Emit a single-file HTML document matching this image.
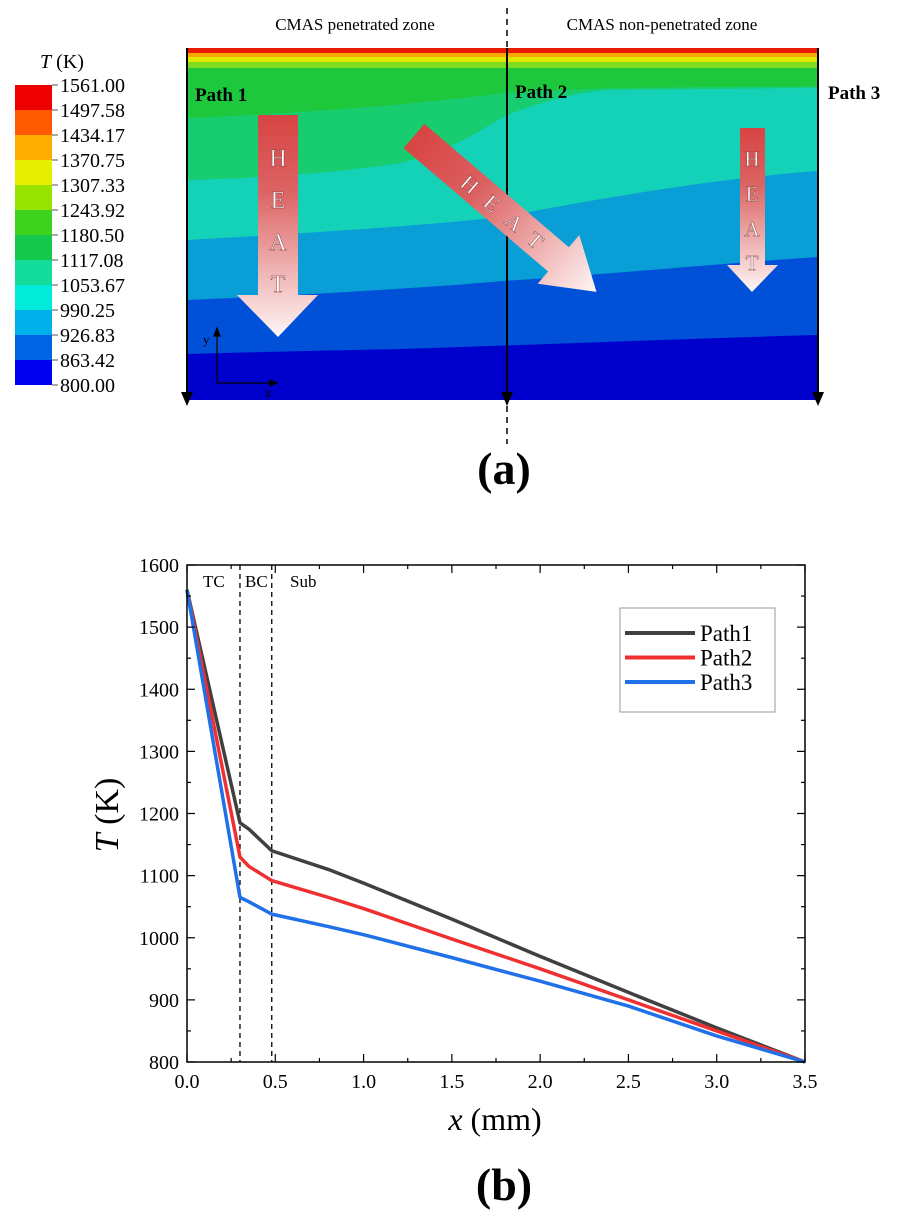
<!DOCTYPE html>
<html><head><meta charset="utf-8"><style>
body{margin:0;background:#fff;}
svg{display:block;font-family:"Liberation Serif",serif;}
</style></head><body>
<svg id="fig" width="908" height="1216" viewBox="0 0 908 1216">
<defs>
<linearGradient id="hg" x1="0" y1="0" x2="0" y2="1"><stop offset="0" stop-color="#d84444"/><stop offset="0.35" stop-color="#dc6464"/><stop offset="1" stop-color="#fff6f6"/></linearGradient>
<linearGradient id="hgd" x1="0" y1="0" x2="1" y2="0"><stop offset="0" stop-color="#d84444"/><stop offset="0.35" stop-color="#dc6060"/><stop offset="1" stop-color="#fff6f6"/></linearGradient>
</defs>
<g>
<text x="355" y="30" font-size="17" text-anchor="middle">CMAS penetrated zone</text>
<text x="662" y="30" font-size="17" text-anchor="middle">CMAS non-penetrated zone</text>
<g>
<rect x="187" y="48" width="631" height="352" fill="#0000cd"/>
<path d="M187,48H818V335C700,338 503,346 400,349C300,351 220,353 187,354Z" fill="#0050d8"/>
<path d="M187,48H818V257C700,265 600,275 503,281C400,290 260,297 187,300Z" fill="#0a9ed6"/>
<path d="M187,48H818V171C720,178 600,198 503,217C400,228 260,236 187,240Z" fill="#14d2b8"/>
<path d="M187,48H818V88L607,90C570,93 540,103 507,115C480,130 450,152 400,163C330,174 260,178 187,180Z" fill="#18cc70"/>
<path d="M187,48H818V86L607,88C570,90 540,91 503,93C430,103 300,114 187,118Z" fill="#1ec83c"/>
<rect x="187" y="48" width="631" height="20" fill="#80dc20"/>
<rect x="187" y="48" width="631" height="14" fill="#e0e800"/>
<rect x="187" y="48" width="631" height="9" fill="#f8a800"/>
<rect x="187" y="48" width="631" height="5" fill="#e81a00"/>
</g>
<g fill="#000">
<rect x="186" y="48" width="2" height="345"/><polygon points="181,392 193,392 187,406"/>
<rect x="506" y="48" width="2" height="345"/><polygon points="501,392 513,392 507,406"/>
<rect x="817" y="48" width="2" height="345"/><polygon points="812,392 824,392 818,406"/>
</g>
<line x1="507" y1="8" x2="507" y2="48" stroke="#000" stroke-width="1.5" stroke-dasharray="6,5"/>
<line x1="507" y1="406" x2="507" y2="444" stroke="#000" stroke-width="1.5" stroke-dasharray="6,5"/>
<g font-weight="bold" font-size="19">
<text x="195" y="101">Path 1</text>
<text x="515" y="98">Path 2</text>
<text x="828" y="99">Path 3</text>
</g>
<g>
<polygon points="258,115 298,115 298,295 318,295 278,337 237,295 258,295" fill="url(#hg)"/>
<g fill="#fff" stroke="#7a3030" stroke-width="0.4" font-size="24" text-anchor="middle"><text x="278" y="166">H</text><text x="278" y="208">E</text><text x="278" y="250">A</text><text x="278" y="292">T</text></g>
</g>
<g>
<polygon points="740,128 765,128 765,265 778,265 752,292 727,265 740,265" fill="url(#hg)"/>
<g fill="#fff" stroke="#7a3030" stroke-width="0.4" font-size="21" text-anchor="middle"><text x="752" y="166">H</text><text x="752" y="201">E</text><text x="752" y="236">A</text><text x="752" y="270">T</text></g>
</g>
<g transform="translate(414,136) rotate(40.5)">
<polygon points="0,-16 190,-16 190,-32 240,0 190,32 190,16 0,16" fill="url(#hgd)"/>
<g fill="#fff" stroke="#7a3030" stroke-width="0.4" font-size="22" text-anchor="middle"><text x="74" y="8">H</text><text x="103" y="8">E</text><text x="132" y="8">A</text><text x="160" y="8">T</text></g>
</g>
<g stroke="#000" stroke-width="1.2">
<line x1="217" y1="383" x2="217" y2="332"/><line x1="217" y1="383" x2="272" y2="383"/>
<polygon points="214,336 220,336 217,328" fill="#000"/><polygon points="270,380 270,386 277,383" fill="#000"/>
<text x="203" y="344" font-size="13" stroke="none">y</text><text x="265" y="397" font-size="13" stroke="none">x</text>
</g>
<g>
<text x="62" y="68" font-size="20" text-anchor="middle"><tspan font-style="italic">T</tspan> (K)</text>
<g id="cb"></g>
</g>
<text x="504" y="484" font-size="46" font-weight="bold" text-anchor="middle">(a)</text>
</g>
<g>
<g id="chart"></g>
<text x="495" y="1130" font-size="32" text-anchor="middle"><tspan font-style="italic">x</tspan> (mm)</text>
<text transform="translate(118,815) rotate(-90)" font-size="34" text-anchor="middle"><tspan font-style="italic">T</tspan> (K)</text>
<text x="504" y="1200" font-size="46" font-weight="bold" text-anchor="middle">(b)</text>
</g>
</svg>
<script>
const cbLabels=["1561.00","1497.58","1434.17","1370.75","1307.33","1243.92","1180.50","1117.08","1053.67","990.25","926.83","863.42","800.00"];
const cbColors=["#ee0000","#ff5a00","#ffae00","#e8ee00","#98e400","#3cd21e","#14c84b","#14dc9c","#00ecd8","#00b0ea","#0064e6","#0000f0"];
const xs=[0,0.3,0.35,0.48,0.8,1.0,1.5,2.0,2.5,3.0,3.5];
const path1=[1560,1185,1175,1140,1110,1088,1030,970,912,855,800];
const path2=[1560,1130,1115,1092,1065,1047,998,950,900,850,800];
const path3=[1560,1065,1058,1038,1018,1005,968,930,890,842,800];
const yTicks=[800,900,1000,1100,1200,1300,1400,1500,1600];
const xTicks=[0,0.5,1,1.5,2,2.5,3,3.5];
const seriesNames=["Path1","Path2","Path3"];
const NS="http://www.w3.org/2000/svg";
function mk(t,a,p){const e=document.createElementNS(NS,t);for(const k in a)e.setAttribute(k,a[k]);p.appendChild(e);return e;}
const cb=document.getElementById('cb');
cbColors.forEach((c,i)=>{const r=mk('rect',{x:15,y:85+25*i,width:37,height:25,fill:c},cb);

});
cbLabels.forEach((l,i)=>{mk('line',{x1:52,x2:58,y1:85+25*i,y2:85+25*i,stroke:'#555'},cb);
const t=mk('text',{x:60,y:92+25*i,'font-size':20},cb);t.textContent=l;

});
const L=187,R=805,T=565,B=1062;
const X=v=>L+v/3.5*(R-L), Y=v=>B-(v-800)/800*(B-T);
const g=document.getElementById('chart');
[[0.3],[0.48]].forEach(([v])=>{const d=mk('line',{x1:X(v),x2:X(v),y1:T,y2:B,stroke:'#000','stroke-width':1.3,'stroke-dasharray':'5,4'},g);

});
[["TC",203],["BC",245],["Sub",290]].forEach(([s,x])=>{const t=mk('text',{x:x,y:587,'font-size':17},g);t.textContent=s;

});
const cols=["#404040","#f03030","#2070e8"];
[path1,path2,path3].forEach((s,k)=>{const p=mk('polyline',{points:s.map((v,i)=>X(xs[i])+','+Y(v)).join(' '),fill:'none',stroke:cols[k],'stroke-width':3.5,'stroke-linejoin':'round'},g);

});
const frame=mk('rect',{x:L,y:T,width:R-L,height:B-T,fill:'none',stroke:'#000','stroke-width':1.5},g);


for(let v=800;v<=1600;v+=50){const len=v%100?4:8;
mk('line',{x1:L,x2:L+len,y1:Y(v),y2:Y(v),stroke:'#000','stroke-width':1.2},g);
mk('line',{x1:R,x2:R-len,y1:Y(v),y2:Y(v),stroke:'#000','stroke-width':1.2},g);}
for(let v=0;v<=3.5001;v+=0.25){const len=(Math.round(v*4)%2)?4:8;
mk('line',{x1:X(v),x2:X(v),y1:B,y2:B-len,stroke:'#000','stroke-width':1.2},g);
mk('line',{x1:X(v),x2:X(v),y1:T,y2:T+len,stroke:'#000','stroke-width':1.2},g);}
yTicks.forEach(v=>{const t=mk('text',{x:L-8,y:Y(v)+7,'font-size':20,'text-anchor':'end'},g);t.textContent=v;

});
xTicks.forEach(v=>{const t=mk('text',{x:X(v),y:B+26,'font-size':20,'text-anchor':'middle'},g);t.textContent=v.toFixed(1);

});
const lg=mk('g',{},g);


mk('rect',{x:620,y:608,width:155,height:104,fill:'#fff',stroke:'#999','stroke-width':1},lg);
seriesNames.forEach((n,k)=>{const y=633+24.5*k;
mk('line',{x1:625,x2:695,y1:y,y2:y,stroke:cols[k],'stroke-width':4},lg);
const t=mk('text',{x:700,y:y+8,'font-size':23},lg);t.textContent=n;

});
</script>
</body></html>
